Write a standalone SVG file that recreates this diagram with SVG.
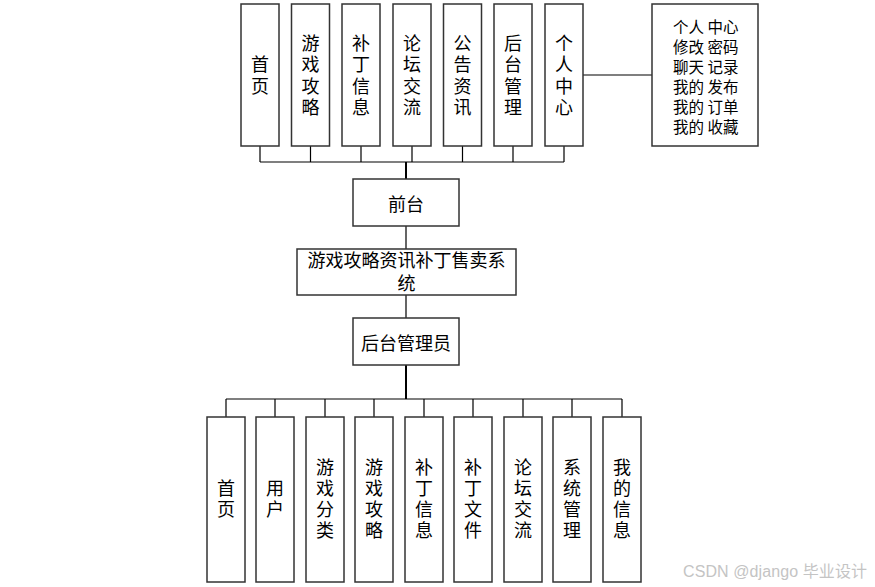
<svg xmlns="http://www.w3.org/2000/svg" width="875" height="587" viewBox="0 0 875 587">
<style>
.box{fill:#fff;stroke:#333;stroke-width:1.5}
.ln{stroke:#000;stroke-width:1.2;fill:none}
.lnb{stroke:#000;stroke-width:2;fill:none}
.t{font-family:"Noto Sans CJK SC","Liberation Sans",sans-serif;font-size:18px;fill:#000;text-anchor:middle;dominant-baseline:central}
.ts{font-family:"Liberation Sans","Noto Sans CJK SC",sans-serif;font-size:18px;fill:#000;text-anchor:middle;dominant-baseline:central}
.v{font-family:"Noto Sans CJK SC","Liberation Sans",sans-serif;font-size:18px;fill:#000;text-anchor:middle;writing-mode:vertical-rl;letter-spacing:3.5px}
.vb{letter-spacing:3px}
.tl{font-family:"Noto Sans CJK SC","Liberation Sans",sans-serif;font-size:15.5px;fill:#000;dominant-baseline:central}
.wm{font-family:"Liberation Sans","Noto Sans CJK SC",sans-serif;font-size:16px;fill:#c4c4c4}
</style>
<rect width="875" height="587" fill="#fff"/>
<g id="connectors">
<path class="ln" d="M260,146V162M310.5,146V162M361,146V162M412,146V162M462.5,146V162M513,146V162M564,146V162M260,162H564"/>
<path class="lnb" d="M406,162V179"/>
<path class="ln" d="M583,75H652"/>
<path class="ln" d="M406,226V249M406,295V318"/>
<path class="lnb" d="M406,365V399"/>
<path class="ln" d="M226,399H622M226,399V417M275,399V417M325,399V417M374,399V417M424,399V417M473,399V417M523,399V417M572,399V417M622,399V417"/>
</g>
<g id="top-1"><rect class="box" x="241" y="4" width="38" height="142"/><text class="v" x="260" y="76.75">首页</text></g>
<g id="top-2"><rect class="box" x="291.5" y="4" width="38" height="142"/><text class="v" x="310.5" y="76.75">游戏攻略</text></g>
<g id="top-3"><rect class="box" x="342" y="4" width="38" height="142"/><text class="v" x="361" y="76.75">补丁信息</text></g>
<g id="top-4"><rect class="box" x="393" y="4" width="38" height="142"/><text class="v" x="412" y="76.75">论坛交流</text></g>
<g id="top-5"><rect class="box" x="443.5" y="4" width="38" height="142"/><text class="v" x="462.5" y="76.75">公告资讯</text></g>
<g id="top-6"><rect class="box" x="494" y="4" width="38" height="142"/><text class="v" x="513" y="76.75">后台管理</text></g>
<g id="top-7"><rect class="box" x="545" y="4" width="38" height="142"/><text class="v" x="564" y="76.75">个人中心</text></g>
<g id="personal-detail"><rect class="box" x="652" y="4" width="106" height="142"/><text class="tl"><tspan x="673" y="26">个人 中心</tspan><tspan x="673" y="46">修改 密码</tspan><tspan x="673" y="66">聊天 记录</tspan><tspan x="673" y="86">我的 发布</tspan><tspan x="673" y="106">我的 订单</tspan><tspan x="673" y="126">我的 收藏</tspan></text></g>
<g id="frontend"><rect class="box" x="353" y="179" width="106" height="47"/><text class="t" x="406" y="203">前台</text></g>
<g id="system"><rect class="box" x="297" y="249" width="219" height="46"/><text class="ts" x="406.5" y="261">游戏攻略资讯补丁售卖系</text><text class="ts" x="406.5" y="283.5">统</text></g>
<g id="admin"><rect class="box" x="353" y="318" width="106" height="47"/><text class="t" x="406" y="341.5">后台管理员</text></g>
<g id="bot-1"><rect class="box" x="207" y="417" width="38" height="165"/><text class="v vb" x="226" y="500.5">首页</text></g>
<g id="bot-2"><rect class="box" x="256" y="417" width="38" height="165"/><text class="v vb" x="275" y="500.5">用户</text></g>
<g id="bot-3"><rect class="box" x="306" y="417" width="38" height="165"/><text class="v vb" x="325" y="500.5">游戏分类</text></g>
<g id="bot-4"><rect class="box" x="355" y="417" width="38" height="165"/><text class="v vb" x="374" y="500.5">游戏攻略</text></g>
<g id="bot-5"><rect class="box" x="405" y="417" width="38" height="165"/><text class="v vb" x="424" y="500.5">补丁信息</text></g>
<g id="bot-6"><rect class="box" x="454" y="417" width="38" height="165"/><text class="v vb" x="473" y="500.5">补丁文件</text></g>
<g id="bot-7"><rect class="box" x="504" y="417" width="38" height="165"/><text class="v vb" x="523" y="500.5">论坛交流</text></g>
<g id="bot-8"><rect class="box" x="553" y="417" width="38" height="165"/><text class="v vb" x="572" y="500.5">系统管理</text></g>
<g id="bot-9"><rect class="box" x="603" y="417" width="38" height="165"/><text class="v vb" x="622" y="500.5">我的信息</text></g>
<text class="wm" x="683" y="577" textLength="184" lengthAdjust="spacing">CSDN @django  毕业设计</text>
</svg>
